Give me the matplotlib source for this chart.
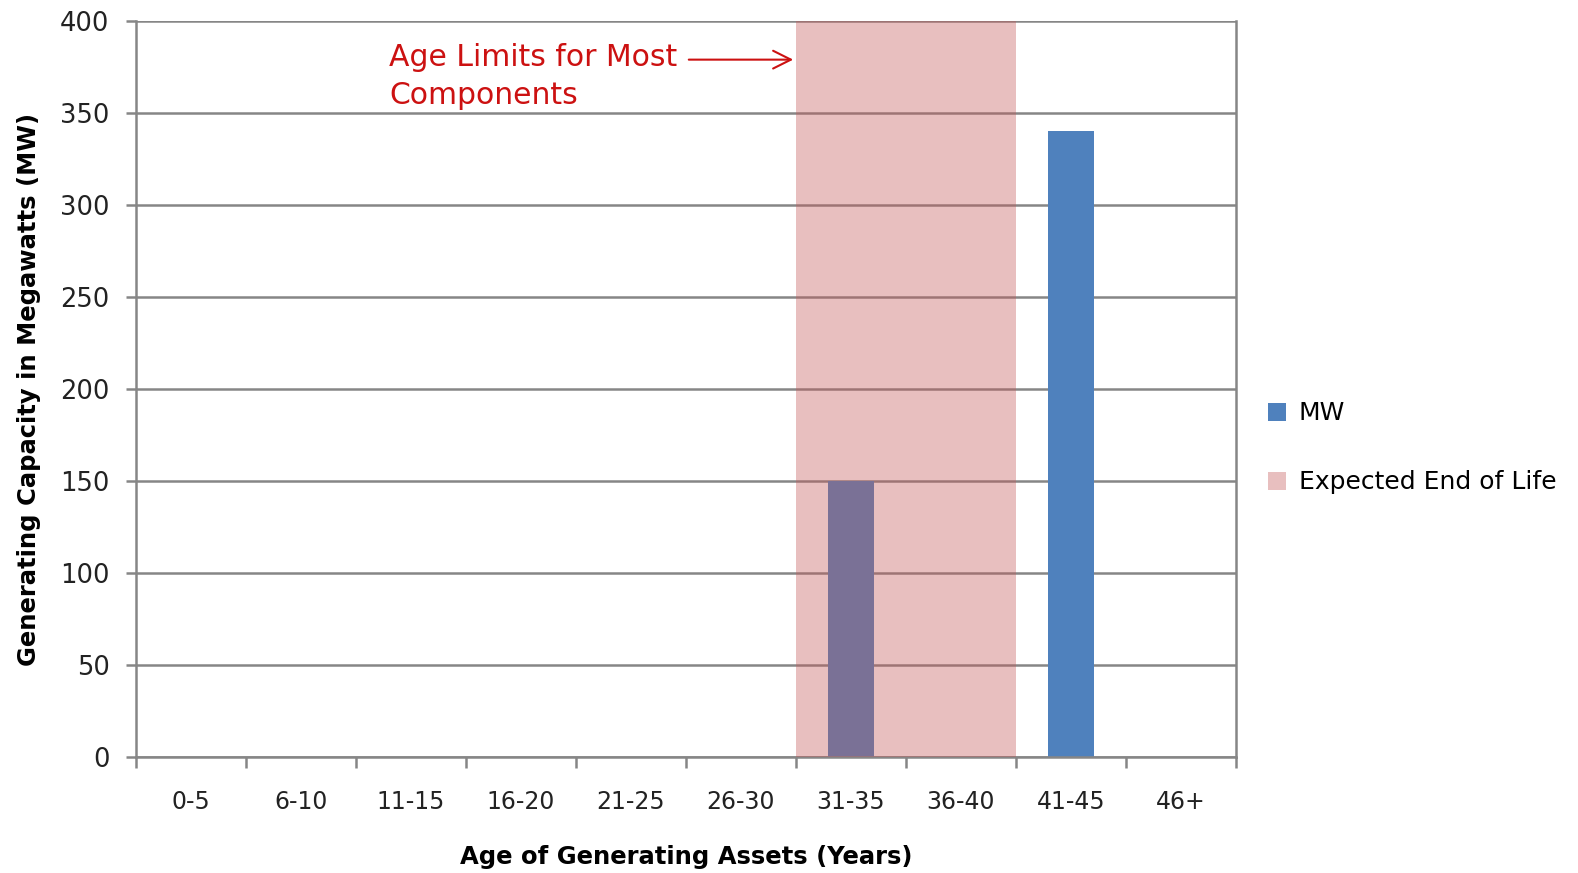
import numpy as np
import matplotlib.pyplot as plt
from matplotlib.patches import Patch

categories = ["0-5", "6-10", "11-15", "16-20", "21-25", "26-30",
              "31-35", "36-40", "41-45", "46+"]
mw = [0, 0, 0, 0, 0, 0, 150, 0, 340, 0]
end_of_life = [0, 0, 0, 0, 0, 0, 400, 400, 0, 0]

blue = "#4F81BD"
pink = (196 / 255, 87 / 255, 87 / 255)
grey = "#868686"

fig = plt.figure(figsize=(15.78, 8.73), dpi=100)
ax = fig.add_axes([136 / 1578, 1 - 757 / 873, 1100 / 1578, 736 / 873])

x = np.arange(len(categories))
ax.bar(x, mw, width=0.41, color=blue, zorder=2)
ax.bar(x, end_of_life, width=1.0, color=pink, alpha=0.375, linewidth=0, zorder=3)

ax.set_xlim(-0.5, len(categories) - 0.5)
ax.set_ylim(0, 400)
ax.set_yticks(np.arange(0, 401, 50))
ax.yaxis.grid(True, color=grey, linewidth=1.8, zorder=0)
ax.set_axisbelow(True)

ax.set_xticks(np.arange(-0.5, len(categories), 1.0))
ax.set_xticklabels([])
ax.set_xticks(x, minor=True)
ax.set_xticklabels(categories, minor=True)
ax.tick_params(axis="x", which="major", length=8, width=1.8, color=grey)
ax.tick_params(axis="x", which="minor", length=0, pad=24, labelsize=17, labelcolor="#222222")
ax.tick_params(axis="y", length=7, width=1.8, color=grey, pad=12, labelsize=18.5, labelcolor="#222222")

for side in ["left", "right", "bottom", "top"]:
    ax.spines[side].set_color(grey)
    ax.spines[side].set_linewidth(1.8)
ax.spines["top"].set_visible(False)

ax.set_xlabel("Age of Generating Assets (Years)", fontsize=17.5, fontweight="bold", labelpad=22)
ax.set_ylabel("Generating Capacity in Megawatts (MW)", fontsize=17.5, fontweight="bold", labelpad=14)

ax.annotate("", xy=(5.5, 379), xytext=(4.5, 379),
            arrowprops=dict(arrowstyle="->", color="#CC1111", lw=1.5, mutation_scale=32))
ax.text(1.8, 370, "Age Limits for Most\nComponents", color="#CC1111", fontsize=21.5,
        ha="left", va="center", linespacing=1.4)

handles = [Patch(facecolor=blue), Patch(facecolor=pink, alpha=0.375)]
fig.legend(handles, ["MW", "Expected End of Life"], loc="center left",
           bbox_to_anchor=(1245 / 1578, 1 - 448 / 873), frameon=False, fontsize=18,
           handlelength=0.75, handleheight=0.75, handletextpad=0.5, labelspacing=1.8)

fig.savefig("out.png", dpi=100)
